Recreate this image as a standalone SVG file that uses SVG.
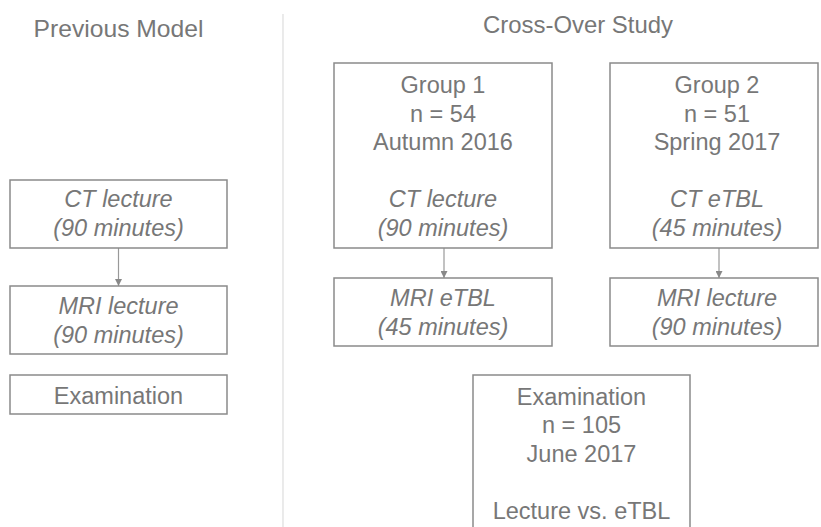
<svg xmlns="http://www.w3.org/2000/svg" width="821" height="527" viewBox="0 0 821 527">
<style>
  .box { fill: #ffffff; stroke: #8a8a8a; stroke-width: 1.5; }
  .t { font-family: "Liberation Sans", Arial, sans-serif; font-size: 23.5px; fill: #777777; text-anchor: middle; }
  .i { font-style: italic; }
  .h { font-family: "Liberation Sans", Arial, sans-serif; font-size: 24px; fill: #777777; text-anchor: middle; }
  .conn { stroke: #999999; stroke-width: 1.2; fill: none; marker-end: url(#arr); }
</style>
<defs>
  <marker id="arr" viewBox="0 0 10 10" refX="10" refY="5" markerWidth="7" markerHeight="7" markerUnits="userSpaceOnUse" orient="auto">
    <path d="M0,0 L10,5 L0,10 z" fill="#888888"/>
  </marker>
</defs>
<rect width="821" height="527" fill="#ffffff"/>

<g id="headings">
  <text class="h" x="118.5" y="37" textLength="170" lengthAdjust="spacingAndGlyphs">Previous Model</text>
  <text class="h" x="578" y="33" textLength="190" lengthAdjust="spacingAndGlyphs">Cross-Over Study</text>
  <line x1="283" y1="14" x2="283" y2="527" stroke="#dddddd" stroke-width="1.2"/>
</g>

<g id="connectors">
  <line class="conn" x1="118.5" y1="248" x2="118.5" y2="286"/>
  <line class="conn" x1="444" y1="248" x2="444" y2="278"/>
  <line class="conn" x1="719" y1="248" x2="719" y2="278"/>
</g>

<g id="prev-ct">
  <rect class="box" x="10" y="180" width="217" height="68"/>
  <text class="t i" x="118.5" y="207">CT lecture</text>
  <text class="t i" x="118.5" y="236">(90 minutes)</text>
</g>
<g id="prev-mri">
  <rect class="box" x="10" y="286" width="217" height="68"/>
  <text class="t i" x="118.5" y="314">MRI lecture</text>
  <text class="t i" x="118.5" y="343">(90 minutes)</text>
</g>
<g id="prev-exam">
  <rect class="box" x="10" y="375" width="217" height="39"/>
  <text class="t" x="118.5" y="404">Examination</text>
</g>

<g id="group1">
  <rect class="box" x="334" y="63" width="218" height="185"/>
  <text class="t" x="443" y="93">Group 1</text>
  <text class="t" x="443" y="122">n = 54</text>
  <text class="t" x="443" y="150">Autumn 2016</text>
  <text class="t i" x="443" y="207">CT lecture</text>
  <text class="t i" x="443" y="236">(90 minutes)</text>
</g>
<g id="group1-mri">
  <rect class="box" x="334" y="278" width="218" height="68"/>
  <text class="t i" x="443" y="306">MRI eTBL</text>
  <text class="t i" x="443" y="335">(45 minutes)</text>
</g>

<g id="group2">
  <rect class="box" x="610" y="63" width="208" height="185"/>
  <text class="t" x="717" y="93">Group 2</text>
  <text class="t" x="717" y="122">n = 51</text>
  <text class="t" x="717" y="150">Spring 2017</text>
  <text class="t i" x="717" y="207">CT eTBL</text>
  <text class="t i" x="717" y="236">(45 minutes)</text>
</g>
<g id="group2-mri">
  <rect class="box" x="610" y="278" width="208" height="68"/>
  <text class="t i" x="717" y="306">MRI lecture</text>
  <text class="t i" x="717" y="335">(90 minutes)</text>
</g>

<g id="exam">
  <rect class="box" x="473" y="375" width="217" height="170"/>
  <text class="t" x="581.5" y="405">Examination</text>
  <text class="t" x="581.5" y="433">n = 105</text>
  <text class="t" x="581.5" y="462">June 2017</text>
  <text class="t" x="581.5" y="519">Lecture vs. eTBL</text>
</g>
</svg>
